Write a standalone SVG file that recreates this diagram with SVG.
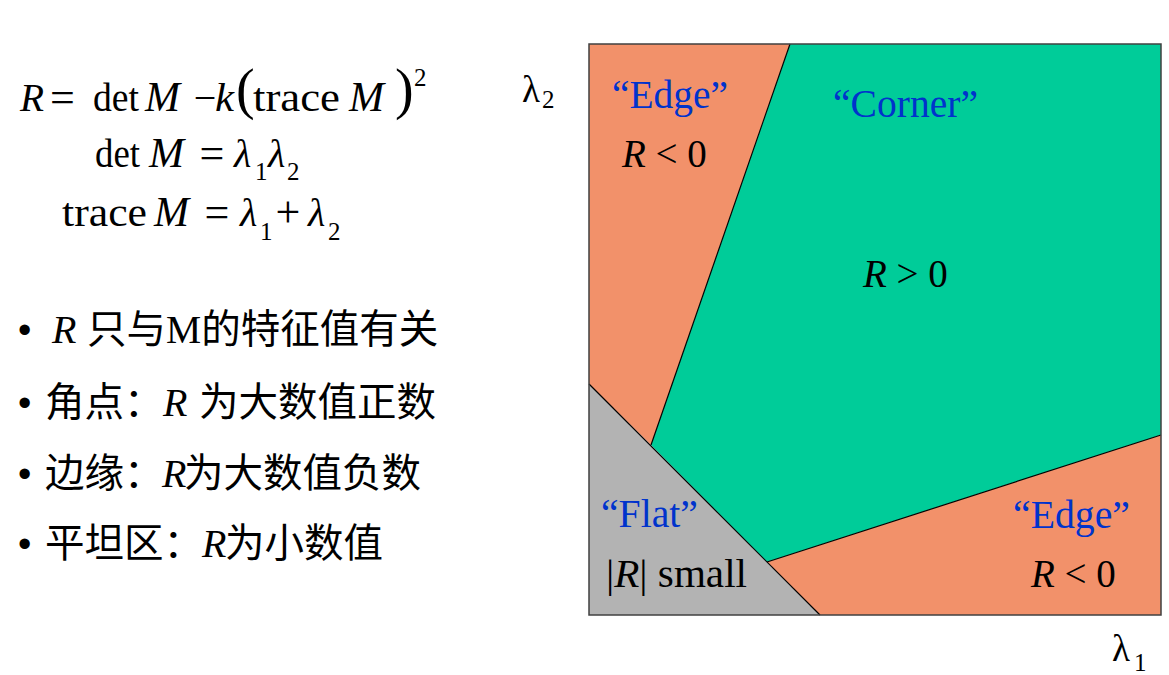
<svg xmlns="http://www.w3.org/2000/svg" width="1169" height="675" viewBox="0 0 1169 675">
<style>
.s{font-family:"Liberation Serif","Times New Roman",serif;fill:#000}
.i{font-style:italic}
.f{font-size:40px}
.eq{font-size:44px}
.m{font-size:42px;font-style:italic}
.sub{font-size:25px}
.lbl{font-family:"Liberation Serif","Times New Roman",serif;font-size:39px}
.blue{fill:#0033CC}
.cjk{font-family:"Noto Sans CJK SC","Noto Sans",sans-serif;font-size:39.5px;fill:#000}
.bul{font-family:"Liberation Sans",Arial,sans-serif;font-size:38px;fill:#000}
.edge{fill:none;stroke:#000;stroke-width:1.2}
</style>
<rect width="1169" height="675" fill="#fff"/>

<g id="formula">
  <text class="s f i" x="20" y="111" textLength="24" lengthAdjust="spacingAndGlyphs">R</text>
  <text class="s eq" x="62.5" y="112" text-anchor="middle">=</text>
  <text class="s f" x="93" y="111" textLength="46" lengthAdjust="spacingAndGlyphs">det</text>
  <text class="s m" x="145" y="111">M</text>
  <text class="s" x="205" y="111" font-size="40" text-anchor="middle">−</text>
  <text class="s f i" x="215" y="111" textLength="19" lengthAdjust="spacingAndGlyphs">k</text>
  <text class="s" x="236" y="108" font-size="56">(</text>
  <text class="s f" x="253" y="111" textLength="87" lengthAdjust="spacingAndGlyphs">trace</text>
  <text class="s m" x="349" y="111">M</text>
  <text class="s" x="395" y="108" font-size="56">)</text>
  <text class="s sub" x="414" y="86">2</text>

  <text class="s f" x="95" y="167" textLength="45" lengthAdjust="spacingAndGlyphs">det</text>
  <text class="s m" x="149" y="167">M</text>
  <text class="s eq" x="212" y="168" text-anchor="middle">=</text>
  <text class="s f i" x="234" y="167">λ</text>
  <text class="s sub" x="255" y="180">1</text>
  <text class="s f i" x="268" y="167">λ</text>
  <text class="s sub" x="287" y="180">2</text>

  <text class="s f" x="62" y="226" textLength="85" lengthAdjust="spacingAndGlyphs">trace</text>
  <text class="s m" x="154" y="226">M</text>
  <text class="s eq" x="217" y="227" text-anchor="middle">=</text>
  <text class="s f i" x="240" y="226">λ</text>
  <text class="s sub" x="260" y="240">1</text>
  <text class="s eq" x="288" y="227" text-anchor="middle">+</text>
  <text class="s f i" x="308" y="226">λ</text>
  <text class="s sub" x="328" y="240">2</text>
</g>

<g id="bullets">
  <text class="bul" x="18" y="343">•</text>
  <text class="s f i" x="52" y="343">R</text>
  <text class="cjk" x="87" y="343">只与<tspan class="s">M</tspan>的特征值有关</text>

  <text class="bul" x="18" y="416">•</text>
  <text class="cjk" x="45" y="416">角点：</text>
  <text class="s f i" x="163" y="416">R</text>
  <text class="cjk" x="199" y="416">为大数值正数</text>

  <text class="bul" x="18" y="487">•</text>
  <text class="cjk" x="45" y="487">边缘：</text>
  <text class="s f i" x="162" y="487">R</text>
  <text class="cjk" x="184" y="487">为大数值负数</text>

  <text class="bul" x="18" y="557">•</text>
  <text class="cjk" x="45" y="557">平坦区：</text>
  <text class="s f i" x="202" y="557">R</text>
  <text class="cjk" x="225" y="557">为小数值</text>
</g>

<g id="regions">
  <polygon id="edge-top" points="589,44 790,44 651,445 589,384" fill="#F2916A"/>
  <polygon id="corner" points="790,44 1161,44 1161,435 767,562 651,445" fill="#00CC99"/>
  <polygon id="edge-bottom" points="767,562 1161,435 1161,615 820,615" fill="#F2916A"/>
  <polygon id="flat" points="589,384 820,615 589,615" fill="#B3B3B3"/>
</g>

<g id="boundaries">
  <polyline class="edge" points="790,44 651,445"/>
  <polyline class="edge" points="589,384 820,615"/>
  <polyline class="edge" points="767,562 1161,435"/>
  <rect x="589" y="44" width="572" height="571" fill="none" stroke="#404040" stroke-width="1.5"/>
</g>

<g id="labels">
  <text class="lbl blue" x="612" y="108" textLength="116" lengthAdjust="spacingAndGlyphs">“Edge”</text>
  <text class="lbl" x="622" y="167"><tspan class="i">R</tspan> &lt; 0</text>
  <text class="lbl blue" x="833" y="117" textLength="145" lengthAdjust="spacingAndGlyphs">“Corner”</text>
  <text class="lbl" x="863" y="287"><tspan class="i">R</tspan> &gt; 0</text>
  <text class="lbl blue" x="601" y="527" textLength="97" lengthAdjust="spacingAndGlyphs">“Flat”</text>
  <text class="lbl" x="606" y="587" textLength="141" lengthAdjust="spacingAndGlyphs">|<tspan class="i">R</tspan>| small</text>
  <text class="lbl blue" x="1013" y="528" textLength="117" lengthAdjust="spacingAndGlyphs">“Edge”</text>
  <text class="lbl" x="1031" y="587"><tspan class="i">R</tspan> &lt; 0</text>
</g>

<g id="axes">
  <text class="s" x="522" y="102" font-size="37">λ</text>
  <text class="s sub" x="542" y="108">2</text>
  <text class="s" x="1112" y="661" font-size="37">λ</text>
  <text class="s sub" x="1134" y="671">1</text>
</g>
</svg>
